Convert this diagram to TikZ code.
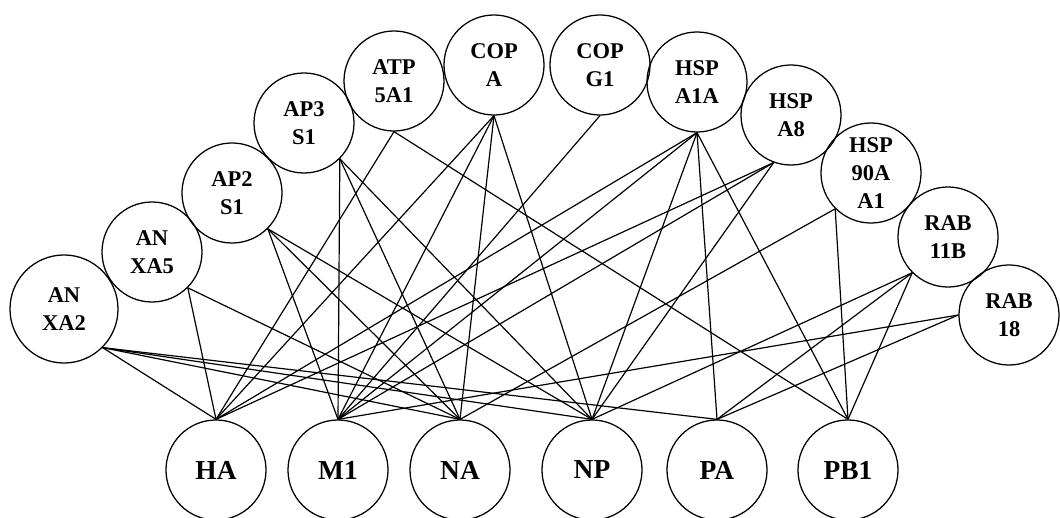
\documentclass[tikz,border=0pt]{standalone}
\usepackage{fontspec}
\setmainfont{Liberation Serif}

\begin{document}
\begin{tikzpicture}[x=0.025cm,y=-0.025cm,
  host/.style={draw,circle,minimum size=2.5cm,inner sep=0pt,align=center,line width=0.9pt,font=\bfseries\fontsize{16}{20}\selectfont},
  viral/.style={draw,circle,minimum size=2.5cm,inner sep=0pt,line width=0.9pt,font=\bfseries\fontsize{19.5}{22}\selectfont},
  link/.style={line width=0.85pt}]
 \useasboundingbox (0,0) rectangle (1060,518);
 % host proteins
 \node[host,minimum size=2.7cm] (anxa2) at (64,309) {AN\\XA2};
 \node[host] (anxa5) at (152,252) {AN\\XA5};
 \node[host] (ap2s1) at (232,193) {AP2\\S1};
 \node[host] (ap3s1) at (304,123) {AP3\\S1};
 \node[host] (atp5a1) at (394,81) {ATP\\5A1};
 \node[host] (copa) at (494,65) {COP\\A};
 \node[host] (copg1) at (600,65) {COP\\G1};
 \node[host] (hspa1a) at (697,82) {HSP\\A1A};
 \node[host] (hspa8) at (791,115) {HSP\\A8};
 \node[host] (hsp90aa1) at (871,173) {HSP\\90A\\A1};
 \node[host] (rab11b) at (948,237) {RAB\\11B};
 \node[host] (rab18) at (1009,315) {RAB\\18};
 % viral proteins
 \node[viral] (ha) at (216,470) {HA};
 \node[viral] (m1) at (338,470) {M1};
 \node[viral] (na) at (460,470) {NA};
 \node[viral] (np) at (592,470) {NP};
 \node[viral] (pa) at (717,470) {PA};
 \node[viral] (pb1) at (848,470) {PB1};
 % interactions
 \draw[link] (anxa2.south east)--(ha.north);
 \draw[link] (anxa2.south east)--(na.north);
 \draw[link] (anxa2.south east)--(np.north);
 \draw[link] (anxa2.south east)--(pa.north);
 \draw[link] (anxa5.south east)--(ha.north);
 \draw[link] (anxa5.south east)--(na.north);
 \draw[link] (ap2s1.south east)--(m1.north);
 \draw[link] (ap2s1.south east)--(na.north);
 \draw[link] (ap2s1.south east)--(np.north);
 \draw[link] (ap3s1.south east)--(m1.north);
 \draw[link] (ap3s1.south east)--(na.north);
 \draw[link] (ap3s1.south east)--(np.north);
 \draw[link] (atp5a1.south)--(ha.north);
 \draw[link] (atp5a1.south)--(pb1.north);
 \draw[link] (copa.south)--(ha.north);
 \draw[link] (copa.south)--(m1.north);
 \draw[link] (copa.south)--(na.north);
 \draw[link] (copa.south)--(np.north);
 \draw[link] (copg1.south)--(m1.north);
 \draw[link] (hspa1a.south)--(ha.north);
 \draw[link] (hspa1a.south)--(m1.north);
 \draw[link] (hspa1a.south)--(np.north);
 \draw[link] (hspa1a.south)--(pa.north);
 \draw[link] (hspa1a.south)--(pb1.north);
 \draw[link] (hspa8.-110)--(ha.north);
 \draw[link] (hspa8.-110)--(m1.north);
 \draw[link] (hspa8.-110)--(np.north);
 \draw[link] (hsp90aa1.south west)--(na.north);
 \draw[link] (hsp90aa1.south west)--(pb1.north);
 \draw[link] (rab11b.south west)--(np.north);
 \draw[link] (rab11b.south west)--(pa.north);
 \draw[link] (rab11b.south west)--(pb1.north);
 \draw[link] (rab18.west)--(m1.north);
 \draw[link] (rab18.west)--(pa.north);
\end{tikzpicture}
\end{document}
